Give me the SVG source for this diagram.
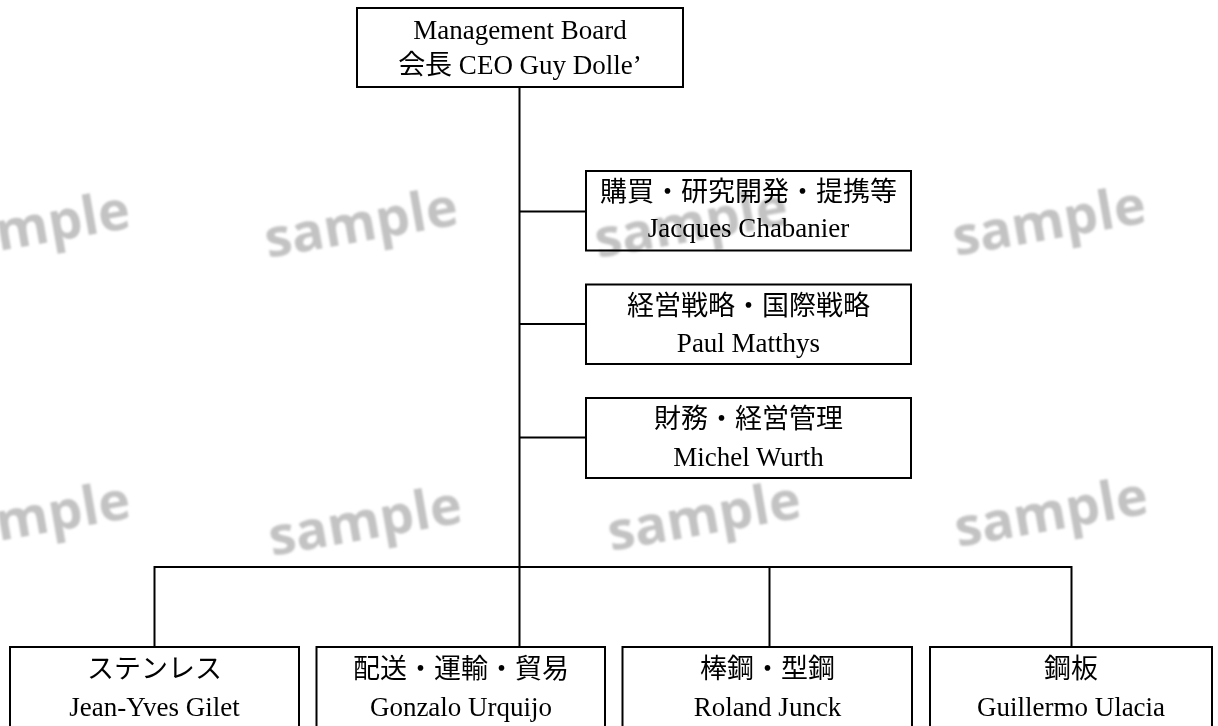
<svg xmlns="http://www.w3.org/2000/svg" width="1218" height="726" viewBox="0 0 1218 726">
<style>
.bg{fill:#ffffff}
.box{fill:none;stroke:#000;stroke-width:2}
.ln{fill:none;stroke:#000;stroke-width:2}
.t{font-family:"Liberation Serif","Noto Sans CJK JP",serif;font-size:27px;fill:#000;text-anchor:middle}
.wm{font-family:"Open Sans","DejaVu Sans",sans-serif;font-weight:bold;font-size:54px;fill:#c3c3c3}
</style>
<defs>
<filter id="blur" x="-10%" y="-30%" width="120%" height="160%"><feGaussianBlur stdDeviation="1.2"/></filter>
</defs>
<rect class="bg" x="0" y="0" width="1218" height="726"/>
<g id="watermarks" filter="url(#blur)">
<text class="wm" transform="translate(-1,251) rotate(-10)">mple</text>
<text class="wm" transform="translate(268,258) rotate(-10)">sample</text>
<text class="wm" transform="translate(598,258) rotate(-10)">sample</text>
<text class="wm" transform="translate(956,256) rotate(-10)">sample</text>
<text class="wm" transform="translate(-1,541) rotate(-10)">mple</text>
<text class="wm" transform="translate(272,556) rotate(-10)">sample</text>
<text class="wm" transform="translate(611,551) rotate(-10)">sample</text>
<text class="wm" transform="translate(958,547) rotate(-10)">sample</text>
</g>
<g id="connectors">
<line class="ln" x1="519.5" y1="87" x2="519.5" y2="647"/>
<line class="ln" x1="519.5" y1="211.5" x2="586" y2="211.5"/>
<line class="ln" x1="519.5" y1="324" x2="586" y2="324"/>
<line class="ln" x1="519.5" y1="437.5" x2="586" y2="437.5"/>
<line class="ln" x1="154.5" y1="567" x2="1071.5" y2="567"/>
<line class="ln" x1="154.5" y1="566" x2="154.5" y2="647"/>
<line class="ln" x1="769.5" y1="567" x2="769.5" y2="647"/>
<line class="ln" x1="1071.5" y1="566" x2="1071.5" y2="647"/>
</g>
<g id="ceo">
<rect class="box" x="357" y="8" width="326" height="79"/>
<text class="t" x="520" y="39">Management Board</text>
<text class="t" x="520" y="74">会長 CEO Guy Dolle’</text>
</g>
<g id="purchasing">
<rect class="box" x="586" y="171" width="325" height="79.5"/>
<text class="t" x="748.5" y="201">購買・研究開発・提携等</text>
<text class="t" x="748.5" y="237">Jacques Chabanier</text>
</g>
<g id="strategy">
<rect class="box" x="586" y="284.5" width="325" height="79.5"/>
<text class="t" x="748.5" y="314.5">経営戦略・国際戦略</text>
<text class="t" x="748.5" y="352">Paul Matthys</text>
</g>
<g id="finance">
<rect class="box" x="586" y="398" width="325" height="80"/>
<text class="t" x="748.5" y="428">財務・経営管理</text>
<text class="t" x="748.5" y="466">Michel Wurth</text>
</g>
<g id="stainless">
<rect class="box" x="10" y="647" width="289" height="100"/>
<text class="t" x="154.5" y="678">ステンレス</text>
<text class="t" x="154.5" y="716">Jean-Yves Gilet</text>
</g>
<g id="distribution">
<rect class="box" x="316.5" y="647" width="288.5" height="100"/>
<text class="t" x="461" y="678">配送・運輸・貿易</text>
<text class="t" x="461" y="716">Gonzalo Urquijo</text>
</g>
<g id="longsteel">
<rect class="box" x="622.5" y="647" width="289.5" height="100"/>
<text class="t" x="767.5" y="678">棒鋼・型鋼</text>
<text class="t" x="767.5" y="716">Roland Junck</text>
</g>
<g id="flatsteel">
<rect class="box" x="930" y="647" width="282" height="100"/>
<text class="t" x="1071" y="678">鋼板</text>
<text class="t" x="1071" y="716">Guillermo Ulacia</text>
</g>
</svg>
